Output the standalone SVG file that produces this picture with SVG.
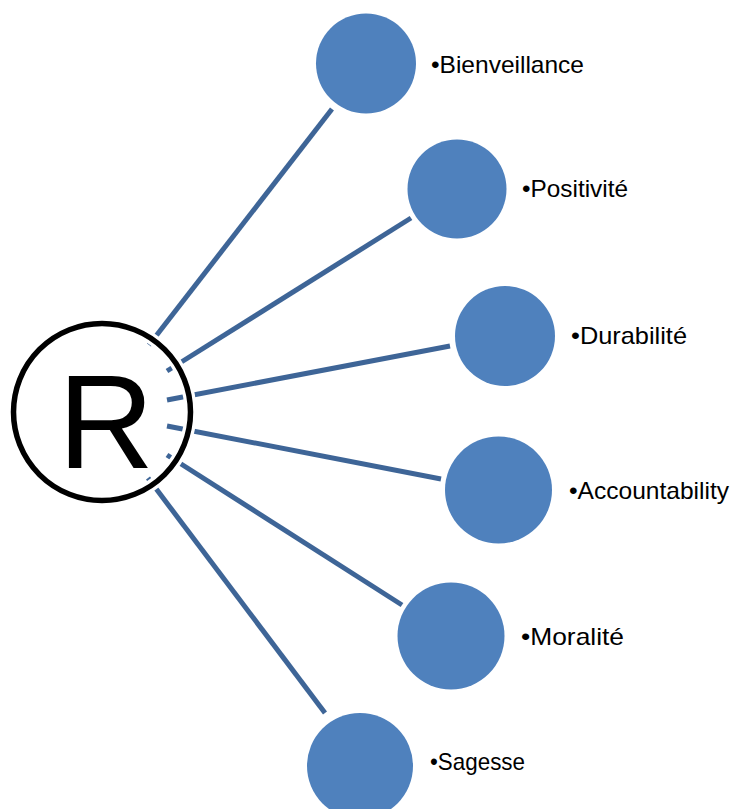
<svg xmlns="http://www.w3.org/2000/svg" width="737" height="809" viewBox="0 0 737 809">
<style>
.conn{stroke:#3E6597;stroke-width:5;fill:none}
.node{fill:#4F81BD}
.lbl{font-family:"Liberation Sans",Arial,sans-serif;font-size:24px;fill:#000}
</style>
<rect width="737" height="809" fill="#fff"/>
<g id="center-fill">
<circle cx="102" cy="412" r="88.5" fill="#fff"/>
</g>
<g id="connectors">
<line class="conn" x1="149" y1="345" x2="332" y2="109"/>
<line class="conn" x1="167" y1="371" x2="411" y2="218"/>
<line class="conn" x1="167" y1="400" x2="450" y2="346"/>
<line class="conn" x1="167" y1="426" x2="441" y2="479"/>
<line class="conn" x1="167" y1="455" x2="402" y2="605"/>
<line class="conn" x1="148" y1="478" x2="325" y2="713"/>
</g>
<g id="center">
<circle cx="102" cy="412" r="88.5" fill="none" stroke="#fff" stroke-width="12"/>
<circle cx="102" cy="412" r="88.5" fill="none" stroke="#000" stroke-width="5.5"/>
<text x="106" y="468" text-anchor="middle" font-family="'Liberation Sans',Arial,sans-serif" font-size="133">R</text>
</g>
<g id="n1"><circle class="node" cx="366" cy="63.5" r="50"/><text class="lbl" x="431" y="73" textLength="153" lengthAdjust="spacingAndGlyphs">•Bienveillance</text></g>
<g id="n2"><circle class="node" cx="457" cy="189" r="49.5"/><text class="lbl" x="522" y="197" textLength="106" lengthAdjust="spacingAndGlyphs">•Positivité</text></g>
<g id="n3"><circle class="node" cx="505" cy="336" r="50"/><text class="lbl" x="571" y="343.5" textLength="116" lengthAdjust="spacingAndGlyphs">•Durabilité</text></g>
<g id="n4"><circle class="node" cx="498.5" cy="490" r="53.5"/><text class="lbl" x="569" y="498.5" textLength="160" lengthAdjust="spacingAndGlyphs">•Accountability</text></g>
<g id="n5"><circle class="node" cx="451" cy="636" r="53.5"/><text class="lbl" x="521" y="644.5" textLength="103" lengthAdjust="spacingAndGlyphs">•Moralité</text></g>
<g id="n6"><circle class="node" cx="360" cy="766" r="53"/><text class="lbl" x="430" y="770" textLength="95" lengthAdjust="spacingAndGlyphs">•Sagesse</text></g>
</svg>
